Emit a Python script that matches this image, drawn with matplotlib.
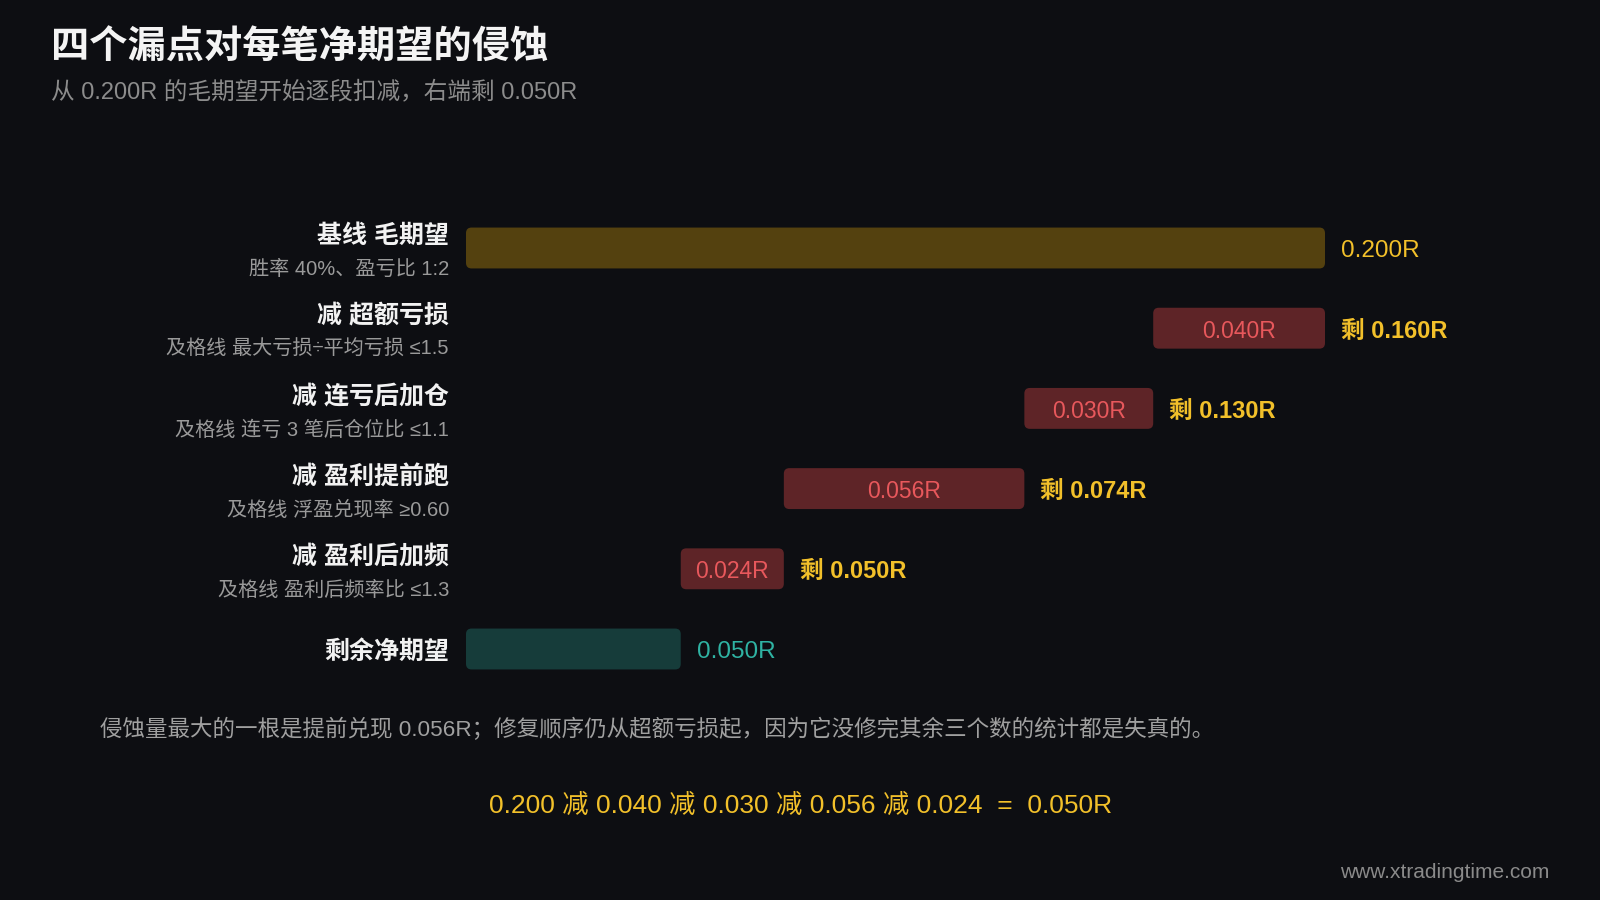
import numpy as np
import matplotlib.pyplot as plt
from matplotlib.patches import FancyBboxPatch

plt.rcParams['font.family'] = ['Liberation Sans', 'Noto Sans CJK SC', 'DejaVu Sans']

# data
gross = 0.200
leak_names = ["超额亏损", "连亏后加仓", "盈利提前跑", "盈利后加频"]
leak_rules = ["及格线 最大亏损÷平均亏损 ≤1.5", "及格线 连亏 3 笔后仓位比 ≤1.1",
              "及格线 浮盈兑现率 ≥0.60", "及格线 盈利后频率比 ≤1.3"]
leak_vals = [0.040, 0.030, 0.056, 0.024]
base_title = "基线 毛期望"
base_rule = "胜率 40%、盈亏比 1:2"
net_title = "剩余净期望"

remain = gross - np.cumsum(leak_vals)
net = remain[-1]

BG = "#0d0e12"
GOLD = "#f2c02a"
GOLD_BAR = "#54410f"
RED_BAR = "#5e2427"
RED_TXT = "#e8585c"
TEAL_BAR = "#163c3a"
TEAL_TXT = "#2fb3a3"

fig = plt.figure(figsize=(16, 9), dpi=100, facecolor=BG)
ax = fig.add_axes([0, 0, 1, 1])
ax.set_facecolor(BG)

# pixel mapping: zero at x=466px, 4295 px per R; rows at 248px + 80.2px*i
pxr = 4295.0
rowpx = 80.2
ax.set_xlim(-466 / pxr, (1600 - 466) / pxr)
ax.set_ylim((900 - 248) / rowpx, -248 / rowpx)
ax.axis('off')

bh = 0.51
asp = pxr / rowpx
tdy = 3 / rowpx  # small text nudge down


def bar(row, left, width, color):
    p = FancyBboxPatch((left, row - bh / 2), width, bh,
                       boxstyle="round,pad=0,rounding_size=0.0013",
                       mutation_aspect=asp, fc=color, ec='none')
    ax.add_patch(p)


dx = 16 / pxr
lx = -17 / pxr

# baseline
bar(0, 0, gross, GOLD_BAR)
ax.text(gross + dx, tdy, f"{gross:.3f}R", color=GOLD, fontsize=17.5, va='center', ha='left')
ax.text(lx, -0.19 + tdy, base_title, color='#f2f2f2', fontsize=18, fontweight='bold', ha='right', va='center')
ax.text(lx, 0.23 + tdy, base_rule, color='#9a9a9a', fontsize=14.5, ha='right', va='center')

# leaks
prev = gross
for i, (name, rule, v, r) in enumerate(zip(leak_names, leak_rules, leak_vals, remain)):
    row = i + 1
    bar(row, r, v, RED_BAR)
    ax.text(r + v / 2, row + tdy, f"{v:.3f}R", color=RED_TXT, fontsize=16.5, ha='center', va='center')
    ax.text(prev + dx, row + tdy, f"剩 {r:.3f}R", color=GOLD, fontsize=17, fontweight='bold',
            ha='left', va='center')
    ax.text(lx, row - 0.19 + tdy, "减 " + name, color='#f2f2f2', fontsize=18, fontweight='bold',
            ha='right', va='center')
    ax.text(lx, row + 0.23 + tdy, rule, color='#9a9a9a', fontsize=14.5, ha='right', va='center')
    prev = r

# net
row = len(leak_vals) + 1
bar(row, 0, net, TEAL_BAR)
ax.text(net + dx, row + tdy, f"{net:.3f}R", color=TEAL_TXT, fontsize=17.5, ha='left', va='center')
ax.text(lx, row + tdy, net_title, color='#f2f2f2', fontsize=18, fontweight='bold', ha='right', va='center')

# titles and notes
fig.text(51 / 1600, 1 - 48 / 900, "四个漏点对每笔净期望的侵蚀", color='#f4f4f4', fontsize=27.5,
         fontweight='bold', ha='left', va='center')
fig.text(51 / 1600, 1 - 92 / 900, "从 0.200R 的毛期望开始逐段扣减，右端剩 0.050R", color='#8c8c8c',
         fontsize=17, ha='left', va='center')
fig.text(100 / 1600, 1 - 729 / 900,
         "侵蚀量最大的一根是提前兑现 0.056R；修复顺序仍从超额亏损起，因为它没修完其余三个数的统计都是失真的。",
         color='#a0a0a0', fontsize=16.2, ha='left', va='center')
formula = f"{gross:.3f} " + " ".join(f"减 {v:.3f}" for v in leak_vals) + f"  =  {net:.3f}R"
fig.text(801 / 1600, 1 - 806 / 900, formula, color=GOLD, fontsize=19,
         ha='center', va='center')
fig.text(1549 / 1600, 1 - 873 / 900, "www.xtradingtime.com", color='#8a8a8a', fontsize=15,
         ha='right', va='center')

fig.savefig("out.png", dpi=100, facecolor=BG)
